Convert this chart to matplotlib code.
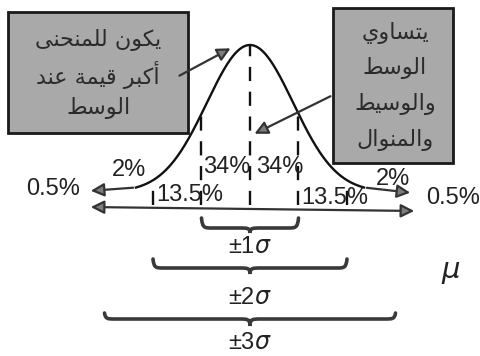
import numpy as np
import matplotlib.pyplot as plt
from matplotlib.path import Path
from matplotlib.patches import PathPatch, Rectangle

# percentages under the curve, left to right
pcts = [0.5, 2, 13.5, 34, 34, 13.5, 2, 0.5]
sig_lines = [-2, -1, 0, 1, 2]
brace_k = [1, 2, 3]
box_left = ['يكون للمنحنى', 'أكبر قيمة عند', 'الوسط']
box_right = ['يتساوي', 'الوسط', 'والوسيط', 'والمنوال']

# arabic presentation forms: isolated, final, initial, medial
FORMS = {
    'ا': (0xFE8D, 0xFE8E, None, None),
    'أ': (0xFE83, 0xFE84, None, None),
    'ب': (0xFE8F, 0xFE90, 0xFE91, 0xFE92),
    'ة': (0xFE93, 0xFE94, None, None),
    'ت': (0xFE95, 0xFE96, 0xFE97, 0xFE98),
    'ح': (0xFEA1, 0xFEA2, 0xFEA3, 0xFEA4),
    'د': (0xFEA9, 0xFEAA, None, None),
    'ر': (0xFEAD, 0xFEAE, None, None),
    'س': (0xFEB1, 0xFEB2, 0xFEB3, 0xFEB4),
    'ط': (0xFEC1, 0xFEC2, 0xFEC3, 0xFEC4),
    'ع': (0xFEC9, 0xFECA, 0xFECB, 0xFECC),
    'ق': (0xFED5, 0xFED6, 0xFED7, 0xFED8),
    'ك': (0xFED9, 0xFEDA, 0xFEDB, 0xFEDC),
    'ل': (0xFEDD, 0xFEDE, 0xFEDF, 0xFEE0),
    'م': (0xFEE1, 0xFEE2, 0xFEE3, 0xFEE4),
    'ن': (0xFEE5, 0xFEE6, 0xFEE7, 0xFEE8),
    'و': (0xFEED, 0xFEEE, None, None),
    'ى': (0xFEEF, 0xFEF0, None, None),
    'ي': (0xFEF1, 0xFEF2, 0xFEF3, 0xFEF4),
}


def shape(txt):
    out = []
    for i, c in enumerate(txt):
        if c not in FORMS:
            out.append(c)
            continue
        iso, fin, ini, med = FORMS[c]
        prev = txt[i-1] if i > 0 else None
        nxt = txt[i+1] if i < len(txt) - 1 else None
        jp = prev in FORMS and FORMS[prev][2] is not None
        jn = ini is not None and nxt in FORMS
        if jp and jn:
            code = med
        elif jp:
            code = fin
        elif jn:
            code = ini
        else:
            code = iso
        out.append(chr(code))
    return ''.join(reversed(out))


# one sigma = 48.5 px, mean at x=250 px, curve base at 192 px, peak at 45 px
SX, X0 = 48.5, 250.0
SY, Y0 = 147.0, 192.0


def P(xp, yp):
    return (xp - X0) / SX, (Y0 - yp) / SY


plt.rcParams['font.family'] = ['Liberation Sans', 'DejaVu Sans']
fig = plt.figure(figsize=(4.81, 3.56), dpi=100)
ax = fig.add_axes([0, 0, 1, 1])
ax.set_xlim(P(0, 0)[0], P(481, 0)[0])
ax.set_ylim(P(0, 356)[1], P(0, 0)[1])
ax.axis('off')

# curve
w = 0.89
x = np.linspace(-2.35, 2.35, 300)
f = np.exp(-(x / w) ** 2 / 2)
ax.plot(x, f, color='#111111', lw=1.7)

# dashed sigma lines from the curve down
yb = P(0, 205)[1]
for s in sig_lines:
    top = np.exp(-(s / w) ** 2 / 2)
    ax.plot([s, s], [yb, top], color='#111111', lw=1.7, dashes=(6, 4.5))

ac = dict(color='#333333', lw=1.6, mutation_scale=20, fc='#7d7d7d')
# tails
ax.annotate('', xy=P(88, 191), xytext=(x[0], f[0]),
            arrowprops=dict(arrowstyle='-|>', **ac))
ax.annotate('', xy=P(413, 193), xytext=(x[-1], f[-1]),
            arrowprops=dict(arrowstyle='-|>', **ac))
# full range
ax.annotate('', xy=P(417, 211), xytext=P(88, 207),
            arrowprops=dict(arrowstyle='<|-|>', **ac))

# percentage labels
pct_pos = [(53, 189), (129, 170), (190, 195), (227, 167),
           (280, 167), (335, 198), (393, 179), (453, 198)]
for v, (xp, yp) in zip(pcts, pct_pos):
    ax.text(*P(xp, yp), '{:g}%'.format(v), fontsize=17,
            ha='center', va='center', color='#222222')


def brace(k, ye, yl, yt):
    ye, yl, yt = P(0, ye)[1], P(0, yl)[1], P(0, yt)[1]
    c = 0.22
    verts = [(-k, ye), (-k + 0.02, yl), (-k + 0.06, yl), (-k + c, yl),
             (-c, yl), (-0.05, yl), (0, yl), (0, yt),
             (0, yl), (0.05, yl), (c, yl),
             (k - c, yl), (k - 0.06, yl), (k - 0.02, yl), (k, ye)]
    codes = [Path.MOVETO, Path.CURVE4, Path.CURVE4, Path.CURVE4,
             Path.LINETO, Path.CURVE4, Path.CURVE4, Path.CURVE4,
             Path.CURVE4, Path.CURVE4, Path.CURVE4,
             Path.LINETO, Path.CURVE4, Path.CURVE4, Path.CURVE4]
    ax.add_patch(PathPatch(Path(verts, codes), fill=False,
                           ec='#3a3a3a', lw=2.6, capstyle='round'))


brace_y = [(218, 228, 233), (259, 268, 274), (313, 319, 326)]
label_y = [247, 298, 343]
for k, (ye, yl, yt), ly in zip(brace_k, brace_y, label_y):
    brace(k, ye, yl, yt)
    ax.text(*P(250, ly), '±%d$\\sigma$' % k, fontsize=17,
            ha='center', va='center', color='#222222')

ax.text(*P(451, 272), '$\\mu$', fontsize=21, ha='center', va='center',
        color='#222222')

# text boxes
def box(x1, y1, x2, y2, lines, cx, ys):
    a = P(x1, y2)
    b = P(x2, y1)
    ax.add_patch(Rectangle(a, b[0] - a[0], b[1] - a[1], fc='#a9a9a9',
                           ec='#1a1a1a', lw=2, zorder=3))
    for t, yp in zip(lines, ys):
        ax.text(*P(cx, yp), shape(t), family='DejaVu Sans', fontsize=16,
                ha='center', va='center', color='#2b2b2b', zorder=4)


box(8, 12, 188, 133, box_left, 98, [40, 75, 108])
box(333, 8, 453, 163, box_right, 395, [33, 68, 104, 140])

ax.annotate('', xy=P(233, 47), xytext=P(177, 77),
            arrowprops=dict(arrowstyle='-|>', **ac), zorder=5)
ax.annotate('', xy=P(252, 135), xytext=P(333, 95),
            arrowprops=dict(arrowstyle='-|>', **ac), zorder=5)

fig.savefig('out.png', dpi=100)
